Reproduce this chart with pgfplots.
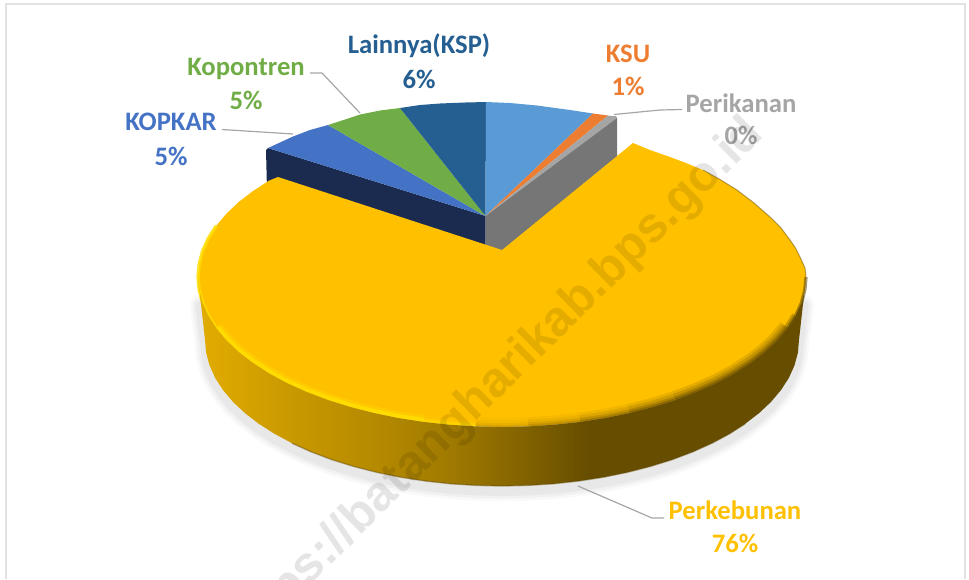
\documentclass[border=0pt]{standalone}
\usepackage{pgfplots}
\pgfplotsset{compat=1.18}
\usepackage{pgfplotstable}
\usepackage{fontspec}
\setmainfont{Carlito}
\newfontfamily\wmfont{Liberation Sans}

\definecolor{cYellow}{HTML}{FFC000}
\definecolor{cBlue}{HTML}{5B9BD5}
\definecolor{cOrange}{HTML}{ED7D31}
\definecolor{cGrey}{HTML}{A5A5A5}
\definecolor{cKopkar}{HTML}{4472C4}
\definecolor{cGreen}{HTML}{70AD47}
\definecolor{cLain}{HTML}{255E91}
\definecolor{cNavy}{HTML}{1A2B4F}
\definecolor{cGreySide}{HTML}{767676}
\definecolor{cBright}{HTML}{FFDE00}
\definecolor{cDark}{HTML}{5E4700}
\definecolor{cLeader}{HTML}{A6A6A6}
\definecolor{cFrame}{HTML}{E2E2E2}
\definecolor{sA}{HTML}{E0AB00}
\definecolor{sB}{HTML}{CB9A00}
\definecolor{sC}{HTML}{B48900}
\definecolor{sD}{HTML}{A07A00}
\definecolor{sE}{HTML}{806100}
\definecolor{sF}{HTML}{664D00}
\pgfdeclarehorizontalshading{sideband}{100bp}{color(0bp)=(sA); color(25.6bp)=(sA); color(32bp)=(sB); color(40bp)=(sC); color(45.7bp)=(sD); color(52.3bp)=(sE); color(57.2bp)=(sF); color(100bp)=(sF)}

% lower edge of the yellow slice
\pgfplotstableread{
x y
804 300
801.5 320
799 340
797.9 352.7
794.5 365.3
788.9 377.8
781.1 389.9
771.2 401.7
759.2 413
745.3 423.7
729.5 433.8
712 443.2
692.9 451.8
672.4 459.6
650.5 466.4
627.5 472.3
603.6 477.2
578.9 481
553.6 483.8
527.9 485.4
502 486
476.1 485.4
450.4 483.8
425.1 481
400.4 477.2
376.5 472.3
353.5 466.4
331.6 459.6
311.1 451.8
292 443.2
274.5 433.8
258.7 423.7
244.8 413
232.8 401.7
222.9 389.9
215.1 377.8
209.5 365.3
206.1 352.7
205 340
202.5 320
200 300
}\lowerrim

% pieces of the upper edge, for the bevel
\pgfplotstableread{
x y
787.7 328.3
777.5 340.4
765.3 352
751 363
734.9 373.4
717 383.1
697.4 391.9
676.4 399.9
}\rimA
\pgfplotstableread{
x y
806 277
804.8 290.1
801.4 303
795.6 315.8
787.7 328.3
}\rimAtop
\pgfplotstableread{
x y
676.4 399.9
654 406.9
630.5 412.9
}\rimB
\pgfplotstableread{
x y
630.5 412.9
606 418
580.7 421.9
}\rimC
\pgfplotstableread{
x y
580.7 421.9
554.8 424.7
528.5 426.4
}\rimD
\pgfplotstableread{
x y
528.5 426.4
502 427
475.5 426.4
}\rimE
\pgfplotstableread{
x y
475.5 426.4
449.2 424.7
423.3 421.9
}\rimF
\pgfplotstableread{
x y
423.3 421.9
398 418
373.5 412.9
350 406.9
327.6 399.9
306.6 391.9
287 383.1
269.1 373.4
253 363
238.7 352
226.5 340.4
216.3 328.3
}\rimG
\pgfplotstableread{
x y
216.3 328.3
208.4 315.8
202.6 303
199.2 290.1
198 277
199.2 263.9
202.6 251
208.4 238.2
216.3 225.7
}\rimH

\newcommand\bevel[5]{%
  \addplot[cDark, opacity=#2, line width=14pt] table {#1};
  \addplot[cDark, opacity=#3, line width=10pt] table {#1};
  \addplot[cDark, opacity=#4, line width=6pt] table {#1};
  \addplot[cDark, opacity=#5, line width=3pt] table {#1};
}

\begin{document}
\begin{tikzpicture}[lab/.style={font=\fontsize{20}{22}\selectfont\bfseries, inner sep=0pt}]
\begin{axis}[
  name=pie,
  scale only axis,
  width=726.75pt, height=434.25pt,
  xmin=0, xmax=969, ymin=0, ymax=579,
  y dir=reverse,
  hide axis,
  clip=false,
]
% frame
\addplot[cFrame, line width=1.5pt] coordinates {(5.5,579)(5.5,4)(965,4)(965,579)};

% soft shadow under the disc
\addplot[black, opacity=0.025, line width=15pt, line cap=round, yshift=-4pt] table {\lowerrim};
\addplot[black, opacity=0.03, line width=11pt, line cap=round, yshift=-4pt] table {\lowerrim};
\addplot[black, opacity=0.035, line width=7pt, line cap=round, yshift=-4pt] table {\lowerrim};

% cut faces of the back slices
\addplot[fill=cNavy, draw=none] coordinates {(266,150)(268,148)(485.5,216)(485.5,246)(267,190)} --cycle;
\addplot[fill=cGreySide, draw=none] coordinates {(485.5,216)(615,116)(617,118)(617,165)(502,252)(485.5,246)} --cycle;

% back slices, top face
\addplot[fill=cKopkar, draw=none] coordinates {(485.5,216)(268,148)(280,142.5)(293,136.5)(310,130)(328,125)} --cycle;
\addplot[fill=cGreen, draw=none] coordinates {(485.5,216)(328,125)(345,119.5)(360,114.5)(380,110.5)(400,108)} --cycle;
\addplot[fill=cLain, draw=none] coordinates {(485.5,216)(400,108)(420,105)(440,103.5)(465,102.5)(486,102)} --cycle;
\addplot[fill=cBlue, draw=none] coordinates {(485.5,216)(486,102)(510,103)(537,105.5)(570,110)(593,113.5)} --cycle;
\addplot[fill=cOrange, draw=none] coordinates {(485.5,216)(593,113.5)(608,115.5)} --cycle;
\addplot[fill=cGrey, draw=none] coordinates {(485.5,216)(608,115.5)(616,116.5)(617,118)} --cycle;

% yellow slice, top face
\addplot[fill=cYellow, draw=none] coordinates {
  (502,250)(633,143)(650,150)(670,157)(686,163)(703,170)(720,179.5)(737,190)(754,203)(770,217)(781,228)(790,240)(795.5,248)(800,257)(805,268)
  (806,277)(804.8,290.1)(801.4,303)(795.6,315.8)(787.7,328.3)(777.5,340.4)(765.3,352)(751,363)
  (734.9,373.4)(717,383.1)(697.4,391.9)(676.4,399.9)(654,406.9)(630.5,412.9)(606,418)(580.7,421.9)
  (554.8,424.7)(528.5,426.4)(502,427)(475.5,426.4)(449.2,424.7)(423.3,421.9)(398,418)(373.5,412.9)
  (350,406.9)(327.6,399.9)(306.6,391.9)(287,383.1)(269.1,373.4)(253,363)(238.7,352)(226.5,340.4)
  (216.3,328.3)(208.4,315.8)(202.6,303)(199.2,290.1)(198,277)(199.2,263.9)(202.6,251)(208.4,238.2)
  (216.3,225.7)(226.5,213.6)(238.7,202)(253,191)(269.1,180.6)(278,177)
} --cycle;

% bevel: dark on the right, fading towards the bottom; bright on the left
\bevel{\rimA}{0.16}{0.22}{0.32}{0.45}
\bevel{\rimB}{0.13}{0.18}{0.27}{0.38}
\bevel{\rimC}{0.09}{0.13}{0.20}{0.28}
\bevel{\rimD}{0.05}{0.08}{0.13}{0.18}
\bevel{\rimE}{0.02}{0.04}{0.07}{0.10}
\addplot[cDark, opacity=0.55, line width=2.5pt] table {\rimAtop};
\addplot[cDark, opacity=0.35, line width=6pt] coordinates {(795.6,315.8)(787.7,328.3)};
\addplot[cBright, opacity=0.25, line width=7pt] table {\rimF};
\addplot[cBright, opacity=0.5, line width=4pt] table {\rimF};
\addplot[cBright, opacity=0.35, line width=10pt] table {\rimG};
\addplot[cBright, opacity=0.85, line width=6pt] table {\rimG};
\addplot[cBright, opacity=0.85, line width=2.5pt] table {\rimH};
\addplot[cDark, opacity=0.45, line width=0.8pt] coordinates {(703,170)(720,179.5)(737,190)(754,203)(770,217)(781,228)(790,240)(795.5,248)(800,257)(805,268)(806,277)};

% yellow slice, outer wall
\addplot[draw=none, shade, shading=sideband] coordinates {
  (806,277)(804.8,290.1)(801.4,303)(795.6,315.8)(787.7,328.3)(777.5,340.4)(765.3,352)(751,363)
  (734.9,373.4)(717,383.1)(697.4,391.9)(676.4,399.9)(654,406.9)(630.5,412.9)(606,418)(580.7,421.9)
  (554.8,424.7)(528.5,426.4)(502,427)(475.5,426.4)(449.2,424.7)(423.3,421.9)(398,418)(373.5,412.9)
  (350,406.9)(327.6,399.9)(306.6,391.9)(287,383.1)(269.1,373.4)(253,363)(238.7,352)(226.5,340.4)
  (216.3,328.3)(208.4,315.8)(202.6,303)(199.2,290.1)(198,277)
  (205,340)(206.1,352.7)(209.5,365.3)(215.1,377.8)(222.9,389.9)(232.8,401.7)(244.8,413)(258.7,423.7)
  (274.5,433.8)(292,443.2)(311.1,451.8)(331.6,459.6)(353.5,466.4)(376.5,472.3)(400.4,477.2)(425.1,481)
  (450.4,483.8)(476.1,485.4)(502,486)(527.9,485.4)(553.6,483.8)(578.9,481)(603.6,477.2)(627.5,472.3)
  (650.5,466.4)(672.4,459.6)(692.9,451.8)(712,443.2)(729.5,433.8)(745.3,423.7)(759.2,413)(771.2,401.7)
  (781.1,389.9)(788.9,377.8)(794.5,365.3)(797.9,352.7)(799,340)
} --cycle;
\addplot[cDark, opacity=0.45, line width=1pt] coordinates {(292,443.2)(311.1,451.8)(331.6,459.6)(353.5,466.4)(376.5,472.3)(400.4,477.2)(425.1,481)(450.4,483.8)(476.1,485.4)(502,486)(527.9,485.4)(553.6,483.8)(578.9,481)(603.6,477.2)(627.5,472.3)(650.5,466.4)(672.4,459.6)(692.9,451.8)(712,443.2)(729.5,433.8)(745.3,423.7)};

% leader lines
\addplot[cLeader, line width=0.9pt] coordinates {(222,129.5)(293,134)};
\addplot[cLeader, line width=0.9pt] coordinates {(310,73)(322,73)(360,113)};
\addplot[cLeader, line width=0.9pt] coordinates {(614,114.5)(660,110)(682,109.5)};
\addplot[cLeader, line width=0.9pt] coordinates {(578,486)(652,518)(664,518)};

% labels
\node[lab, text=cLain] at (axis cs:419,46) {Lainnya(KSP)};
\node[lab, text=cLain] at (axis cs:419,79) {6\%};
\node[lab, text=cGreen] at (axis cs:246,69) {Kopontren};
\node[lab, text=cGreen] at (axis cs:246,100) {5\%};
\node[lab, text=cKopkar] at (axis cs:171,122) {KOPKAR};
\node[lab, text=cKopkar] at (axis cs:171,156) {5\%};
\node[lab, text=cOrange] at (axis cs:628,54) {KSU};
\node[lab, text=cOrange] at (axis cs:628,86) {1\%};
\node[lab, text=cGrey] at (axis cs:741,103) {Perikanan};
\node[lab, text=cGrey] at (axis cs:741,135) {0\%};
\node[lab, text=cYellow] at (axis cs:735,510) {Perkebunan};
\node[lab, text=cYellow] at (axis cs:735,543) {76\%};

% watermark
\node[rotate=44.6, opacity=0.1, text=black, inner sep=0pt, font=\fontsize{37}{39}\selectfont\wmfont\bfseries] at (axis cs:495,385) {https://batangharikab.bps.go.id};
\end{axis}
\pgfresetboundingbox
\path[use as bounding box] (pie.south west) rectangle (pie.north east);
\end{tikzpicture}
\end{document}
